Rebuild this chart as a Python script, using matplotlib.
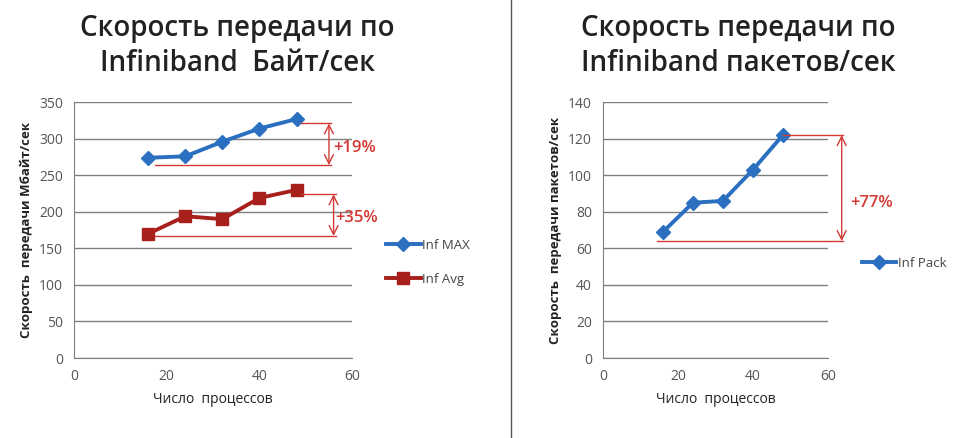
import numpy as np
import matplotlib.pyplot as plt

plt.rcParams['font.family'] = ['Open Sans', 'DejaVu Sans']

# data
procs = [16, 24, 32, 40, 48]
inf_max = [274, 276, 296, 314, 327]
inf_avg = [170, 194, 190, 219, 230]
inf_pack = [69, 85, 86, 103, 122]

title_left = 'Скорость передачи по\nInfiniband  Байт/сек'
title_right = 'Скорость передачи по\nInfiniband пакетов/сек'
ylabel_left = 'Скорость  передачи Мбайт/сек'
ylabel_right = 'Скорость  передачи пакетов/сек'
xlabel = 'Число  процессов'

blue = '#2a6fc0'
red = '#a8201c'
ann = '#d43a35'
gridc = '#7f7f7f'

fig = plt.figure(figsize=(9.69, 4.38), dpi=100)


def style_axes(ax, ymax, ystep, ylabel):
    ax.set_xlim(0, 60)
    ax.set_ylim(0, ymax)
    ax.set_xticks([0, 20, 40, 60])
    ax.set_yticks(np.arange(0, ymax + 1, ystep))
    ax.grid(axis='y', color=gridc, lw=1)
    ax.set_axisbelow(True)
    for s in ['top', 'right']:
        ax.spines[s].set_visible(False)
    ax.spines['left'].set_color(gridc)
    ax.spines['bottom'].set_color(gridc)
    ax.tick_params(length=0, labelsize=10, colors='#555555', pad=8)
    ax.set_xlabel(xlabel, fontsize=10, color='#222222', labelpad=6)
    ax.set_ylabel(ylabel, fontsize=9.5, fontweight='bold', color='#222222', labelpad=4)


def bracket(ax, x0a, x0b, y0, x1a, x1b, y1, xa, label, xt, yt):
    ax.plot([x0a, x0b], [y0, y0], color=ann, lw=1, clip_on=False)
    ax.plot([x1a, x1b], [y1, y1], color=ann, lw=1, clip_on=False)
    ax.annotate('', xy=(xa, y0), xytext=(xa, y1),
                arrowprops=dict(arrowstyle='<->', color=ann, lw=1,
                                shrinkA=0, shrinkB=0, mutation_scale=16),
                annotation_clip=False)
    ax.text(xt, yt, label, color=ann, fontsize=12, fontweight='semibold',
            va='center', ha='left', clip_on=False)


# left chart
ax1 = fig.add_axes([0.0764, 0.1826, 0.287, 0.584])
style_axes(ax1, 350, 50, ylabel_left)
ax1.plot(procs, inf_max, color=blue, lw=2.8, marker='D', ms=7, label='Inf MAX')
ax1.plot(procs, inf_avg, color=red, lw=2.8, marker='s', ms=8, label='Inf Avg')
bracket(ax1, 17.5, 55.5, 264, 49, 55.5, 321, 55.0, '+19%', 56.0, 288)
bracket(ax1, 17.5, 56.5, 167, 49, 56.5, 224, 56.0, '+35%', 56.3, 192)
ax1.legend(loc='center left', bbox_to_anchor=(1.08, 0.375), frameon=False,
           fontsize=9.5, labelspacing=1.6, handlelength=2.6, handletextpad=0.1,
           labelcolor='#444444')
fig.text(0.245, 0.895, title_left, ha='center', va='center', fontsize=20,
         fontweight='semibold', color='#222222', linespacing=1.25)

# right chart
ax2 = fig.add_axes([0.6223, 0.1826, 0.232, 0.584])
style_axes(ax2, 140, 20, ylabel_right)
ax2.plot(procs, inf_pack, color=blue, lw=2.8, marker='D', ms=7, label='Inf Pack')
bracket(ax2, 14.5, 64, 64, 48, 64, 122, 63.7, '+77%', 66.0, 85)
ax2.legend(loc='center left', bbox_to_anchor=(1.1, 0.37), frameon=False,
           fontsize=9.5, handlelength=2.6, handletextpad=0.1,
           labelcolor='#444444')
fig.text(0.762, 0.895, title_right, ha='center', va='center', fontsize=20,
         fontweight='semibold', color='#222222', linespacing=1.25)

# separator between charts
fig.add_artist(plt.Line2D([0.527, 0.527], [0.0, 1.0], color='#555555', lw=1))

fig.savefig('out.png', dpi=100)
